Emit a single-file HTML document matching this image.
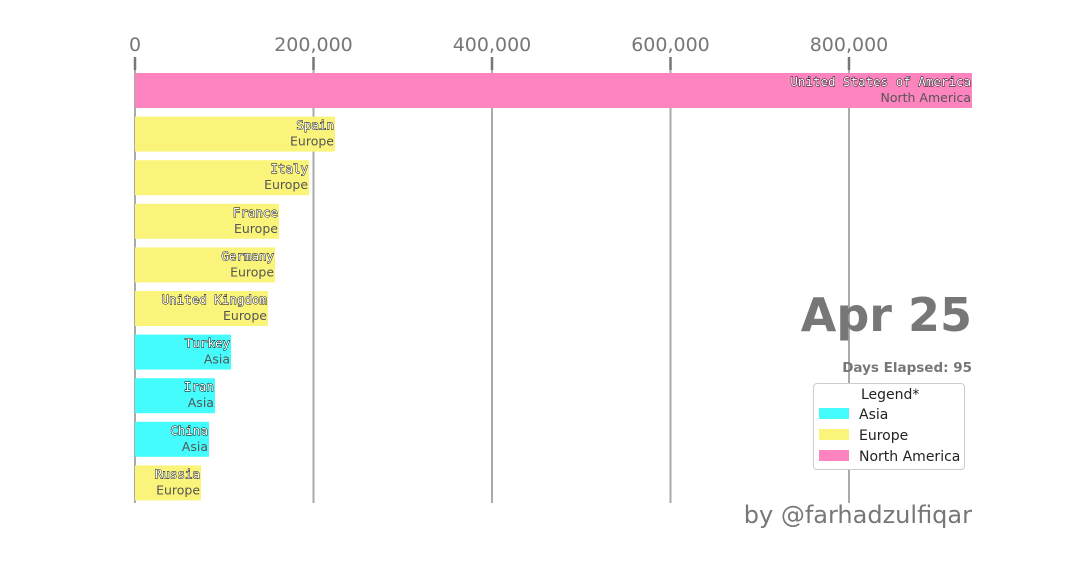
<!DOCTYPE html>
<html><head><meta charset="utf-8"><style>
body{margin:0;background:#fff;width:1080px;height:576px;overflow:hidden;font-family:"DejaVu Sans","Liberation Sans",sans-serif}
</style></head><body>
<svg id="c" width="1080" height="576"></svg>
<script>
const countries=["United States of America","Spain","Italy","France","Germany","United Kingdom","Turkey","Iran","China","Russia"];
const regions=["North America","Europe","Europe","Europe","Europe","Europe","Asia","Asia","Asia","Europe"];
const values=[937800,224100,195000,161300,156900,149000,107600,89600,82900,74000];
const ticks=[0,200000,400000,600000,800000];
const tickLabels=["0","200,000","400,000","600,000","800,000"];
const legendNames=["Asia","Europe","North America"];
const colors={"Asia":"#44fcfc","Europe":"#fbf47a","North America":"#fe84c0"};
const NS="http://www.w3.org/2000/svg";
const svg=document.getElementById('c');
const x=v=>135+v*0.0008925;
const y=i=>73+i*43.6;
function el(t,a,txt){const e=document.createElementNS(NS,t);for(const k in a)e.setAttribute(k,a[k]);if(txt!=null)e.textContent=txt;svg.appendChild(e);return e;}
ticks.forEach((t,i)=>{
 const g=el('line',{x1:x(t),x2:x(t),y1:57,y2:503,stroke:'#aaa','stroke-width':2});
 
 
 const m=el('line',{x1:x(t),x2:x(t),y1:57,y2:70,stroke:'#777','stroke-width':2.5});
 
 
 const l=el('text',{x:x(t),y:51,'text-anchor':'middle','font-size':19,fill:'#777'},tickLabels[i]);
 
 
});
values.forEach((v,i)=>{
 const r=el('rect',{x:135,y:y(i),width:x(v)-135,height:35,fill:colors[regions[i]]});
 
 
 const n=el('text',{x:x(v)-1,y:y(i)+13,'text-anchor':'end','font-size':12.5,fill:'#fff',stroke:'#000','stroke-width':0.9,'paint-order':'stroke','font-family':'DejaVu Sans Mono,monospace'},countries[i]);
 
 
 const g=el('text',{x:x(v)-1,y:y(i)+29,'text-anchor':'end','font-size':12.5,fill:'#555'},regions[i]);
 
 
});
</script>
<div style="position:absolute;right:108px;top:288px;font:bold 46px 'DejaVu Sans',sans-serif;color:#777">Apr 25</div>
<div style="position:absolute;right:108px;top:360px;font:bold 13.5px 'DejaVu Sans',sans-serif;color:#777">Days Elapsed: 95</div>
<div style="position:absolute;left:813px;top:383px;width:150px;height:85px;border:1.5px solid #ccc;border-radius:4px;background:#fff;font:14px 'DejaVu Sans',sans-serif;color:#222">
<div style="position:absolute;left:47px;top:3px">Legend*</div>
<div style="position:absolute;left:5px;top:23px"><span style="display:inline-block;width:30px;height:11px;background:#44fcfc;margin-right:10px"></span>Asia</div>
<div style="position:absolute;left:5px;top:44px"><span style="display:inline-block;width:30px;height:11px;background:#fbf47a;margin-right:10px"></span>Europe</div>
<div style="position:absolute;left:5px;top:65px"><span style="display:inline-block;width:30px;height:11px;background:#fe84c0;margin-right:10px"></span>North America</div>
</div>
<div style="position:absolute;right:108px;top:501px;font:24px 'DejaVu Sans',sans-serif;color:#777">by @farhadzulfiqar</div>
</body></html>
